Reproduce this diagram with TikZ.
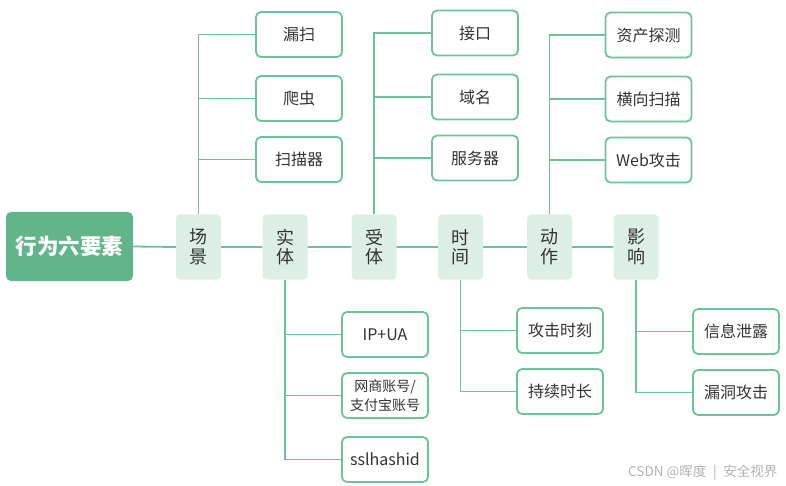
\documentclass[tikz,border=0pt]{standalone}
\usepackage{fontspec}
\setmainfont{Noto Sans CJK SC}
\usepackage{xcolor}
\usepackage{tikz}
\definecolor{rootGreen}{HTML}{62B58A}
\definecolor{lineGreen}{HTML}{6CC398}
\definecolor{catFill}{HTML}{DDEFE4}
\definecolor{leafText}{HTML}{333333}
\newcommand{\rootLabel}{行为六要素}
\newcommand{\catY}{247}
\newcommand{\catNames}{scene/198.5/{场\\景}, entity/285/{实\\体}, target/374/{受\\体}, time/460.5/{时\\间}, action/549.5/{动\\作}, impact/636/{影\\响}}
\newcommand{\leavesUp}{sA/299/34.5/scene/漏扫, sB/299/98.5/scene/爬虫, sC/299/159.5/scene/扫描器, tA/475/33/target/接口, tB/475/97/target/域名, tC/475/158/target/服务器, aA/648.5/35/action/资产探测, aB/648.5/99/action/横向扫描, aC/648.5/160/action/Web攻击}
\newcommand{\leavesDown}{eA/385/334.5/entity/IP+UA, eC/385/459.5/entity/sslhashid, mA/560/330.5/time/攻击时刻, mB/560/391.5/time/持续时长, iA/736/331.5/impact/信息泄露, iB/736/392.5/impact/漏洞攻击}
\tikzset{
	rootbox/.style={fill=rootGreen, rounded corners=5pt, minimum width=127pt, minimum height=69pt, inner sep=0pt, text=white, font=\fontsize{21.5}{24}\selectfont\bfseries},
	catbox/.style={fill=catFill, rounded corners=4pt, minimum width=45pt, minimum height=65pt, inner sep=0pt, align=center, text=black!80, font=\fontsize{18}{19.5}\selectfont},
	leafbox/.style={draw=lineGreen, line width=1.8pt, fill=white, rounded corners=5pt, minimum width=86pt, minimum height=45pt, inner sep=0pt, align=center, text=leafText, font=\fontsize{16}{18}\selectfont},
	link/.style={draw=lineGreen, line width=1.8pt}
}

\begin{document}
\begin{tikzpicture}[x=1pt,y=-1pt]
	\useasboundingbox (0,0) rectangle (786,486);
	
	\node[rootbox] (root) at (69.5,246.5) {\rootLabel};
	\foreach \catName/\catX/\catText in \catNames
	{
		\node[catbox] (\catName) at (\catX,\catY) {\catText};
	}
	\draw[link] (root.east) -- (scene.west) (scene.east) -- (entity.west) (entity.east) -- (target.west) (target.east) -- (time.west) (time.east) -- (action.west) (action.east) -- (impact.west);
	
	% leaves above the row
	\foreach \leafName/\leafX/\leafY/\leafParent/\leafText in \leavesUp
	{
		\draw[link] (\leafParent.north) |- (\leafX-43,\leafY);
		\node[leafbox] (\leafName) at (\leafX,\leafY) {\leafText};
	}
	% leaves below the row
	\foreach \leafName/\leafX/\leafY/\leafParent/\leafText in \leavesDown
	{
		\draw[link] (\leafParent.south) |- (\leafX-43,\leafY);
		\node[leafbox] (\leafName) at (\leafX,\leafY) {\leafText};
	}
	\node[leafbox, font=\fontsize{14}{19}\selectfont] (eB) at (385,395.5) {网商账号/\\支付宝账号};
	\draw[link] (entity.south) |- (eB.west);
	
	\node[text=black!30, font=\fontsize{13.5}{15}\selectfont, anchor=east] (mark) at (781,473) {CSDN @晖度\enspace{}|\enspace{}安全视界};
\end{tikzpicture}
\end{document}
